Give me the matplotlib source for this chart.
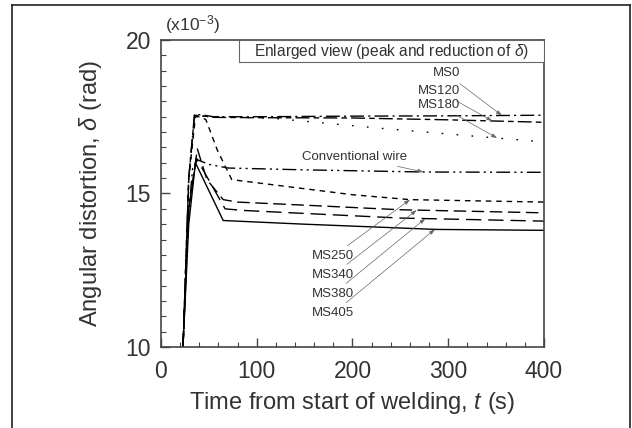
import numpy as np
import matplotlib
matplotlib.use("Agg")
import matplotlib.pyplot as plt
from matplotlib.patches import Rectangle
from matplotlib.ticker import MultipleLocator

plt.rcParams['font.family'] = ['Liberation Sans', 'DejaVu Sans']
plt.rcParams['mathtext.fontset'] = 'custom'
plt.rcParams['mathtext.rm'] = 'Liberation Sans'
plt.rcParams['mathtext.it'] = 'Liberation Sans:italic'
plt.rcParams['lines.scale_dashes'] = False

# data (delta in 1e-3 rad, time in s)
t_ms0 = [23, 29, 35, 45, 55, 100, 200, 300, 400]
ms0 = [10.0, 15.5, 17.58, 17.55, 17.5, 17.5, 17.52, 17.53, 17.55]

t_ms120 = [23, 29, 35, 45, 55, 100, 200, 300, 400]
ms120 = [10.0, 15.5, 17.55, 17.52, 17.48, 17.47, 17.46, 17.4, 17.32]

t_ms180 = [23, 29, 35, 45, 60, 117, 231, 353, 400]
ms180 = [10.0, 15.5, 17.55, 17.52, 17.5, 17.45, 17.12, 16.8, 16.68]

t_conv = [23, 28, 33, 38, 50, 70, 150, 275, 400]
conv = [10.0, 14.0, 15.8, 16.1, 15.95, 15.83, 15.77, 15.7, 15.69]

t_ms250 = [23, 29, 36, 42, 47, 59, 74, 100, 200, 260, 400]
ms250 = [10.0, 15.5, 17.5, 17.5, 17.4, 16.4, 15.45, 15.35, 14.96, 14.8, 14.72]

t_ms340 = [23, 29, 38, 48, 65, 80, 150, 250, 400]
ms340 = [10.0, 14.5, 16.45, 15.45, 14.8, 14.72, 14.62, 14.47, 14.37]

t_ms380 = [23, 29, 37, 67, 85, 150, 250, 400]
ms380 = [10.0, 14.5, 16.15, 14.5, 14.45, 14.35, 14.2, 14.1]

t_ms405 = [23, 29, 36, 65, 150, 287, 400]
ms405 = [10.0, 14.0, 16.0, 14.12, 14.0, 13.83, 13.8]

# label name, text anchor (t, delta), arrow tip time
series = [
    ("MS0", t_ms0, ms0, (0, (10, 3, 1.5, 3)), (312, 18.92), 356),
    ("MS120", t_ms120, ms120, (0, (10, 3, 4, 3)), (312, 18.34), 346),
    ("MS180", t_ms180, ms180, (0, (1.2, 9.6)), (312, 17.88), 351),
    ("Conventional wire", t_conv, conv, (0, (10, 3, 1.5, 3, 1.5, 3)), (257, 16.19), 274),
    ("MS250", t_ms250, ms250, (0, (4, 3.5)), (202, 12.96), 260),
    ("MS340", t_ms340, ms340, (0, (9, 4)), (202, 12.35), 267),
    ("MS380", t_ms380, ms380, (0, (11, 5)), (202, 11.73), 276),
    ("MS405", t_ms405, ms405, '-', (202, 11.1), 286),
]

fig = plt.figure(figsize=(6.32, 4.28), dpi=100)
ax = fig.add_axes([0.2547, 0.1893, 0.6061, 0.7172])

txt = '#333333'
for name, t, v, ls, tpos, ttip in series:
    ax.plot(t, v, color='black', lw=1.0, linestyle=ls)
    tip = (ttip, np.interp(ttip, t, v))
    ax.annotate(name, xy=tip, xytext=tpos, ha='right', va='center',
                fontsize=9.5, color=txt,
                arrowprops=dict(arrowstyle='-|>,head_length=0.35,head_width=0.12',
                                color='#666666', lw=0.5, shrinkA=2, shrinkB=0))

ax.set_xlim(0, 400)
ax.set_ylim(10, 20)
ax.xaxis.set_major_locator(MultipleLocator(100))
ax.xaxis.set_minor_locator(MultipleLocator(20))
ax.yaxis.set_major_locator(MultipleLocator(5))
ax.yaxis.set_minor_locator(MultipleLocator(0.5))
ax.tick_params(which='both', direction='in', top=False, right=False,
               colors='#444444', labelcolor=txt, labelsize=16.5)
ax.tick_params(which='major', length=6.5, width=1.0)
ax.tick_params(which='minor', length=3.5, width=0.8)
ax.tick_params(axis='y', pad=7)
ax.tick_params(axis='x', pad=9.5)
for s in ax.spines.values():
    s.set_color('#444444')
    s.set_linewidth(1.2)

ax.set_xlabel(r'Time from start of welding, $t$ (s)', fontsize=17, color=txt)
ax.set_ylabel(r'Angular distortion, $\delta$ (rad)', fontsize=17, color=txt)
ax.xaxis.set_label_coords(0.5, -0.182)
ax.xaxis.label.set_va('center')
ax.yaxis.set_label_coords(-0.185, 0.5)
ax.yaxis.label.set_va('center')

ax.text(0.01, 1.05, r'(x10$^{\mathregular{-3}}$)', transform=ax.transAxes,
        fontsize=12.5, color=txt, ha='left', va='center')

# "Enlarged view" box attached to the top right corner
ax.add_patch(Rectangle((0.204, 0.928), 0.796, 0.072, transform=ax.transAxes,
                       fc='white', ec='#666666', lw=0.8, zorder=3))
ax.text(0.602, 0.964, r'Enlarged view (peak and reduction of $\delta$)',
        transform=ax.transAxes, fontsize=11.2, color=txt, ha='center', va='center',
        zorder=4)

# outer frame (no bottom edge)
for xs, ys in [([0.019, 0.019], [0.0, 0.988]), ([0.019, 0.997], [0.988, 0.988]),
               ([0.997, 0.997], [0.988, 0.0])]:
    fig.add_artist(plt.Line2D(xs, ys, transform=fig.transFigure, color='#222222', lw=1.2))

fig.savefig('out.png', dpi=100)
